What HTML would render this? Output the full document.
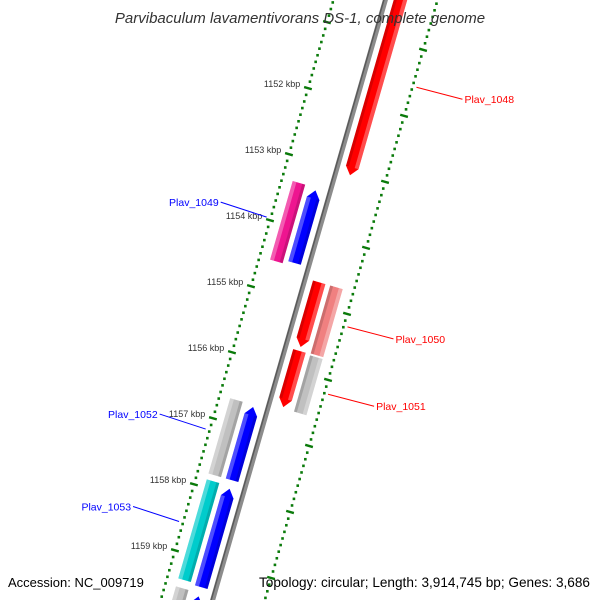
<!DOCTYPE html>
<html><head><meta charset="utf-8">
<style>
html,body{margin:0;padding:0;background:#fff;overflow:hidden;}
svg{display:block;font-family:"Liberation Sans",sans-serif;}
</style></head>
<body>
<svg id="map" width="600" height="600" viewBox="0 0 600 600" xmlns="http://www.w3.org/2000/svg">
<rect width="600" height="600" fill="#fff"/>
<g id="ticks"></g>
<g id="backbone"></g>
<g id="genes"></g>
<g id="labels"></g>
<text x="300" y="23" text-anchor="middle" font-size="15" font-style="italic" fill="#333">Parvibaculum lavamentivorans DS-1, complete genome</text>
<text x="8" y="587" font-size="13" fill="#000">Accession: NC_009719</text>
<text x="590" y="587" text-anchor="end" font-size="13.6" fill="#000">Topology: circular; Length: 3,914,745 bp; Genes: 3,686</text>
</svg>
<script>
// gene data (kbp)
const geneNames = ["Plav_1048","Plav_1049a","Plav_1049","Plav_1050","Plav_1050b","Plav_1051","Plav_1051b","Plav_1052","Plav_1052b","Plav_1053","Plav_1053b","next-gray","next-blue"];
const geneStart = [1149.5,1153.36,1153.40,1154.67,1154.67,1155.71,1155.73,1156.65,1156.68,1157.88,1157.92,1159.50,1159.55];
const geneEnd   = [1153.05,1154.55,1154.50,1155.65,1155.70,1156.56,1156.58,1157.79,1157.79,1159.38,1159.41,1160.5,1160.5];
const geneRing  = [1,-2,-1,1,2,1,2,-2,-1,-2,-1,-2,-1];
const geneColor = ["#ff0000","#ee1590","#0000ff","#ff0000","#f08080","#ff0000","#c0c0c0","#c0c0c0","#0000ff","#00cccc","#0000ff","#c0c0c0","#0000ff"];
const geneDir   = [1,0,-1,1,0,1,0,0,-1,0,-1,0,-1];
// labels
const labelText = ["Plav_1048","Plav_1049","Plav_1050","Plav_1051","Plav_1052","Plav_1053"];
const labelColor = ["#ff0000","#0000ff","#ff0000","#ff0000","#0000ff","#0000ff"];
const labelKbp = [1151.55,1153.97,1155.18,1156.2,1157.18,1158.58];
const labelSide = [1,-1,1,1,-1,-1];
const tickKbp = [1150,1151,1152,1153,1154,1155,1156,1157,1158,1159,1160];
const tickLabels = ["1150 kbp","1151 kbp","1152 kbp","1153 kbp","1154 kbp","1155 kbp","1156 kbp","1157 kbp","1158 kbp","1159 kbp","1160 kbp"];

const NS="http://www.w3.org/2000/svg";
const PX=68.7, dx=-0.2766, dy=0.961, nx=0.961, ny=0.2766;
function P(k,v){const u=(k-1152)*PX;return [356+u*dx+v*nx, 102+u*dy+v*ny];}
function pts(a){return a.map(p=>p[0].toFixed(1)+","+p[1].toFixed(1)).join(" ");}
function mk(tag,attrs,parent){const e=document.createElementNS(NS,tag);for(const k in attrs)e.setAttribute(k,attrs[k]);parent.appendChild(e);return e;}

// backbone
const bb=document.getElementById("backbone");
const b0=P(1149,0),b1=P(1161,0);
let l=mk("line",{x1:b0[0],y1:b0[1],x2:b1[0],y2:b1[1],stroke:"#8c8c8c","stroke-width":5},bb);


let l2=mk("line",{x1:b0[0]-1.5,y1:b0[1],x2:b1[0]-1.5,y2:b1[1],stroke:"#5a5a5a","stroke-width":1.5},bb);



// ticks
const tg=document.getElementById("ticks");
for(let i=11495;i<=11605;i++){
  const k=i/10;
  [-50,50].forEach(v=>{
    if(i%10===0){
      const a=P(k,v-4),b=P(k,v+4);
      const t=mk("line",{x1:a[0],y1:a[1],x2:b[0],y2:b[1],stroke:"#0a7a0a","stroke-width":2.4},tg);
      
      
    } else {
      const c=P(k,v);
      const d=mk("rect",{x:c[0]-1.2,y:c[1]-1.2,width:2.6,height:2.6,fill:"#0a7a0a"},tg);
      
      
    }
  });
}
tickKbp.forEach((k,i)=>{
  const c=P(k,-58);
  if(c[1]<40||c[1]>570)return;
  const t=mk("text",{x:c[0],y:c[1]+1,"text-anchor":"end","font-size":"9",fill:"#333"},tg);
  t.textContent=tickLabels[i];
  
  
});

// genes
const gg=document.getElementById("genes");
const H=0.12;
geneNames.forEach((n,i)=>{
  const s=geneStart[i],e=geneEnd[i],r=geneRing[i],dir=geneDir[i];
  const sign=r>0?1:-1, inner=(Math.abs(r)===1?8:26)*sign, outer=(Math.abs(r)===1?21:39)*sign;
  const vm=(inner+outer)/2;
  let poly;
  if(dir===1) poly=[P(s,inner),P(e-H,inner),P(e,vm),P(e-H,outer),P(s,outer)];
  else if(dir===-1) poly=[P(e,inner),P(s+H,inner),P(s,vm),P(s+H,outer),P(e,outer)];
  else poly=[P(s,inner),P(e,inner),P(e,outer),P(s,outer)];
  const g=mk("polygon",{points:pts(poly),fill:geneColor[i]},gg);
  
  
  const hs=(dir===-1)?s+H:s, he=(dir===1)?e-H:e;
  const hv0=outer-sign*4, hv1=outer;
  const hl=mk("polygon",{points:pts([P(hs,hv0),P(he,hv0),P(he,hv1),P(hs,hv1)]),fill:"#fff","fill-opacity":0.3},gg);
  
  
  const sv0=inner, sv1=inner+sign*3;
  const sh=mk("polygon",{points:pts([P(hs,sv0),P(he,sv0),P(he,sv1),P(hs,sv1)]),fill:"#000","fill-opacity":0.15},gg);
  
  
});

// labels
const lg=document.getElementById("labels");
labelText.forEach((t,i)=>{
  const side=labelSide[i], k=labelKbp[i];
  const a=P(k,side*54);
  const b=[a[0]+side*46,a[1]+(side>0?12:-15)];
  const ln=mk("line",{x1:a[0],y1:a[1],x2:b[0],y2:b[1],stroke:labelColor[i],"stroke-width":1},lg);
  
  
  const tx=mk("text",{x:b[0]+side*2,y:b[1]+4,"text-anchor":side>0?"start":"end","font-size":"10.5",fill:labelColor[i]},lg);
  tx.textContent=t;
  
  
});
</script>
</body></html>
